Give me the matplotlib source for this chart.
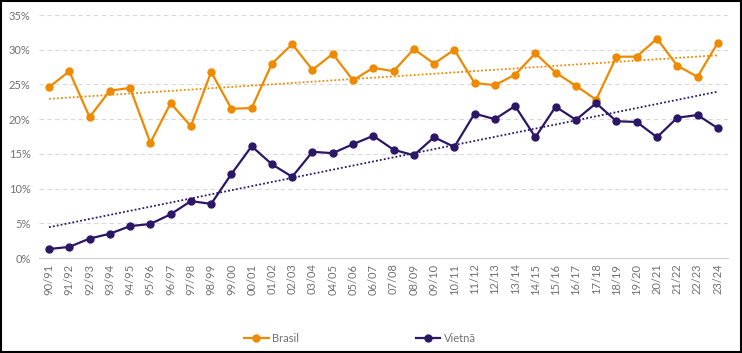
import matplotlib.pyplot as plt
import numpy as np
from matplotlib.patches import Rectangle

# Dati
safras = ['90/91', '91/92', '92/93', '93/94', '94/95', '95/96', '96/97', '97/98', '98/99', '99/00',
          '00/01', '01/02', '02/03', '03/04', '04/05', '05/06', '06/07', '07/08', '08/09', '09/10',
          '10/11', '11/12', '12/13', '13/14', '14/15', '15/16', '16/17', '17/18', '18/19', '19/20',
          '20/21', '21/22', '22/23', '23/24']
brasil = [24.6, 26.9, 20.3, 24.1, 24.5, 16.6, 22.3, 19.0, 26.8, 21.5,
          21.6, 28.0, 30.8, 27.1, 29.4, 25.6, 27.4, 26.9, 30.1, 28.0,
          30.0, 25.2, 24.9, 26.4, 29.5, 26.7, 24.8, 22.8, 29.0, 29.0,
          31.6, 27.7, 26.1, 31.0]
vietna = [1.3, 1.6, 2.8, 3.5, 4.6, 4.9, 6.3, 8.2, 7.8, 12.1,
          16.1, 13.5, 11.7, 15.3, 15.1, 16.4, 17.6, 15.6, 14.8, 17.4,
          16.0, 20.8, 20.0, 21.9, 17.4, 21.8, 19.9, 22.3, 19.7, 19.6,
          17.4, 20.2, 20.6, 18.7]

laranja = '#EE8A00'
roxo = '#2B1766'
cinza = '#707070'

plt.rcParams['font.family'] = ['Lato', 'DejaVu Sans']

fig = plt.figure(figsize=(7.42, 3.53), dpi=100)
ax = fig.add_axes([0.0524, 0.269, 0.9286, 0.6885])

x = np.arange(len(safras))
b = np.array(brasil) / 100
v = np.array(vietna) / 100

ax.plot(x, b, color=laranja, lw=1.6, marker='o', ms=5, label='Brasil', zorder=3)
ax.plot(x, v, color=roxo, lw=1.6, marker='o', ms=5, label='Vietnã', zorder=3)

# Linhas de tendência
for serie, cor in [(b, laranja), (v, roxo)]:
    a, c = np.polyfit(x, serie, 1)
    ax.plot(x, a * x + c, color=cor, lw=1.3, ls=(0, (1, 1.2)), zorder=2)

ax.set_xlim(-0.5, len(safras) - 0.5)
ax.set_ylim(0, 0.35)
ax.set_yticks(np.arange(0, 0.351, 0.05))
ax.set_yticklabels([f'{int(round(t * 100))}%' for t in np.arange(0, 0.351, 0.05)])
ax.set_xticks(x)
ax.set_xticklabels(safras, rotation=90)
ax.tick_params(axis='both', colors=cinza, labelsize=8, length=0)
ax.tick_params(axis='x', pad=4)
ax.tick_params(axis='y', pad=6)
ax.grid(axis='y', color='#D9D9D9', ls=(0, (4, 3)), lw=0.8)
ax.set_axisbelow(True)
for lado in ['top', 'right', 'left']:
    ax.spines[lado].set_visible(False)
ax.spines['bottom'].set_color('#D0D0D0')

leg = fig.legend(loc='center', bbox_to_anchor=(0.485, 0.04), ncol=2, frameon=False,
                 fontsize=8, handlelength=2.2, columnspacing=10.5, handletextpad=0.3)
for t in leg.get_texts():
    t.set_color(cinza)

fig.patches.append(Rectangle((0.001, 0.002), 0.997, 0.995, transform=fig.transFigure,
                             fill=False, edgecolor='black', lw=1.5))

fig.savefig('out.png', dpi=100)
